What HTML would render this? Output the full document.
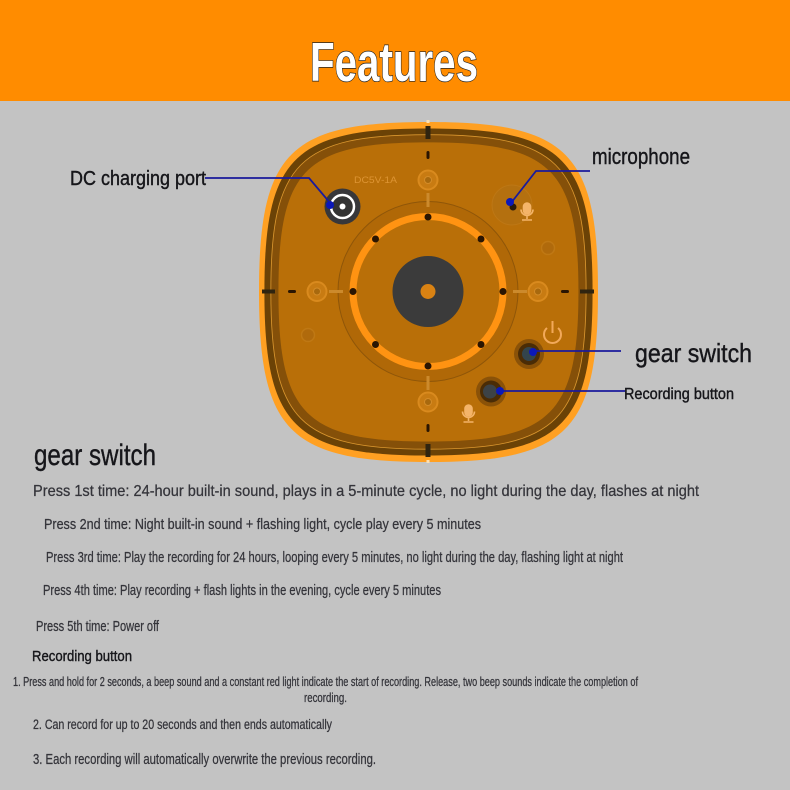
<!DOCTYPE html>
<html>
<head>
<meta charset="utf-8">
<style>
html,body{margin:0;padding:0;background:#c3c3c3;width:790px;height:790px;overflow:hidden}
svg{display:block}
text{font-family:"Liberation Sans",sans-serif}
</style>
</head>
<body>
<svg width="790" height="790" viewBox="0 0 790 790" xmlns="http://www.w3.org/2000/svg">
<defs>
<path id="sq" d="M428,122 C567,122 598,152.500 598,291.500 C598,430.500 567,462 428,462 C289,462 259,430.500 259,291.500 C259,152.500 289,122 428,122 Z"/>
</defs>
<rect width="790" height="790" fill="#c3c3c3"/>
<rect width="790" height="101" fill="#ff8c00"/>
<text x="310" y="81" font-size="55" font-weight="bold" fill="#fff" stroke="#222" stroke-width="1.400" paint-order="stroke" textLength="168" lengthAdjust="spacingAndGlyphs">Features</text>

<!-- device -->
<use href="#sq" fill="#ffa022"/>
<g transform="translate(428 291.500) scale(.968 .962) translate(-428 -291.500)"><use href="#sq" fill="#6b4206"/></g>
<g transform="translate(428 291.500) scale(.93 .925) translate(-428 -291.500)"><use href="#sq" fill="#855009" stroke="#d9962f" stroke-width=".9"/></g>
<g transform="translate(428 291.500) scale(.885 .88) translate(-428 -291.500)"><use href="#sq" fill="#b96f08"/></g>
<circle cx="428" cy="291.500" r="90" fill="#b06807" stroke="#8f5609" stroke-width="1"/>
<circle cx="428" cy="291.500" r="75" fill="#b96f08" stroke="#ff9312" stroke-width="7"/>
<circle cx="428" cy="291.500" r="35.500" fill="#3b3b3b"/>
<circle cx="428" cy="291.500" r="7.500" fill="#d98213"/>

<!-- ring screws -->
<g fill="#2a1502">
<circle cx="428" cy="217" r="3.500"/><circle cx="428" cy="366" r="3.500"/><circle cx="353" cy="291.500" r="3.500"/><circle cx="503" cy="291.500" r="3.500"/>
<circle cx="375.500" cy="239" r="3.500"/><circle cx="481" cy="239" r="3.500"/><circle cx="375.500" cy="344.500" r="3.500"/><circle cx="481" cy="344.500" r="3.500"/>
<rect x="425.500" y="126" width="5" height="13" fill="#2f2410"/><rect x="425.500" y="444" width="5" height="13" fill="#2f2410"/>
<rect x="262" y="289.500" width="13" height="4" fill="#2f2410"/><rect x="580" y="289.500" width="14" height="4" fill="#2f2410"/>
<rect x="426.500" y="151" width="3" height="8" rx="1.500"/><rect x="426.500" y="424" width="3" height="8" rx="1.500"/>
<rect x="288" y="290" width="8" height="3" rx="1.500"/><rect x="561" y="290" width="8" height="3" rx="1.500"/>
</g>
<rect x="426.500" y="120" width="3" height="3" fill="#fbe0b5"/><rect x="426.500" y="460" width="3" height="3" fill="#fbe0b5"/>

<!-- mounting posts -->
<path d="M428,193 V207 M428,376 V390 M329,291.500 H343 M513,291.500 H527" fill="none" stroke="#cc8a2c" stroke-width="3"/>
<g fill="#c87b12" stroke="#d98a1e" stroke-width="2">
<circle cx="428" cy="180" r="9.500"/><circle cx="428" cy="402" r="9.500"/><circle cx="317" cy="291.500" r="9.500"/><circle cx="538" cy="291.500" r="9.500"/>
</g>
<g fill="#a8690e" stroke="#d48c28" stroke-width="1">
<circle cx="428" cy="180" r="3.500"/><circle cx="428" cy="402" r="3.500"/><circle cx="317" cy="291.500" r="3.500"/><circle cx="538" cy="291.500" r="3.500"/>
</g>
<circle cx="548" cy="248" r="6.500" fill="#b06a0c" stroke="#bf7814" stroke-width="1.500"/>
<circle cx="308" cy="335" r="6.500" fill="#b06a0c" stroke="#bf7814" stroke-width="1.500"/>

<text x="354" y="183" font-size="9.500" fill="#dd9433" textLength="43" lengthAdjust="spacingAndGlyphs">DC5V-1A</text>

<!-- DC port -->
<circle cx="342.500" cy="206.500" r="18" fill="#37373a"/>
<circle cx="342.500" cy="206.500" r="11.500" fill="#333" stroke="#fff" stroke-width="2.500"/>
<circle cx="342.500" cy="206.500" r="3" fill="#fff"/>

<!-- mic hole -->
<circle cx="512" cy="205" r="20" fill="#b4700f" stroke="#bd7715" stroke-width="1"/>
<circle cx="513" cy="207" r="3.500" fill="#2a1a08"/>
<g fill="none" stroke="#f4b469" stroke-width="1.600">
<rect x="523.500" y="203" width="7" height="11" rx="3.500" fill="#f4b469"/>
<path d="M521,209.500 a6,6 0 0 0 12,0 M527,216 V219 M522,220 H532"/>
</g>
<g fill="none" stroke="#f4b469" stroke-width="1.600">
<rect x="465" y="405" width="7" height="11" rx="3.500" fill="#f4b469"/>
<path d="M462.500,411.500 a6,6 0 0 0 12,0 M468.500,418 V421 M463.500,422 H473.500"/>
</g>

<!-- power icon -->
<path d="M558,328 a8.500,8.500 0 1 1 -11,0 M552.500,321 V333" fill="none" stroke="#f2a95a" stroke-width="2"/>

<!-- switch and button -->
<circle cx="529" cy="354" r="15" fill="#8a5208"/>
<circle cx="529" cy="354" r="11" fill="#4a2c06"/>
<circle cx="529" cy="354" r="7" fill="#33444c"/>
<circle cx="491" cy="391.500" r="15" fill="#8a5208"/>
<circle cx="491" cy="391.500" r="11" fill="#4a2c06"/>
<circle cx="490" cy="391.500" r="7" fill="#3c4246"/>

<!-- leader lines -->
<g fill="none" stroke="#1a1a9c" stroke-width="1.800">
<path d="M205,178 H309 L331,204"/>
<path d="M590,171 H536 L511,203"/>
<path d="M533,351 H621"/>
<path d="M500,391 H625"/>
</g>
<g fill="#0b18b8">
<circle cx="330" cy="205" r="4"/><circle cx="510" cy="202" r="4"/><circle cx="533" cy="352" r="4"/><circle cx="500" cy="391" r="4"/>
</g>

<!-- callouts -->
<g fill="#16161a" stroke="#16161a" stroke-width=".4">
<text x="70" y="185" font-size="20" textLength="136" lengthAdjust="spacingAndGlyphs">DC charging port</text>
<text x="592" y="164" font-size="22" textLength="98" lengthAdjust="spacingAndGlyphs">microphone</text>
<text x="635" y="362" font-size="26" textLength="117" lengthAdjust="spacingAndGlyphs">gear switch</text>
<text x="624" y="399" font-size="16" textLength="110" lengthAdjust="spacingAndGlyphs">Recording button</text>
<text x="34" y="465" font-size="30" textLength="122" lengthAdjust="spacingAndGlyphs">gear switch</text>
<text x="32" y="661" font-size="15" textLength="100" lengthAdjust="spacingAndGlyphs">Recording button</text>
</g>

<!-- body text -->
<g fill="#34343a" stroke="#34343a" stroke-width=".25">
<text x="33" y="496" font-size="16" textLength="666" lengthAdjust="spacingAndGlyphs">Press 1st time: 24-hour built-in sound, plays in a 5-minute cycle, no light during the day, flashes at night</text>
<text x="44" y="529" font-size="15" textLength="437" lengthAdjust="spacingAndGlyphs">Press 2nd time: Night built-in sound + flashing light, cycle play every 5 minutes</text>
<text x="46" y="562" font-size="15" textLength="577" lengthAdjust="spacingAndGlyphs">Press 3rd time: Play the recording for 24 hours, looping every 5 minutes, no light during the day, flashing light at night</text>
<text x="43" y="595" font-size="15" textLength="398" lengthAdjust="spacingAndGlyphs">Press 4th time: Play recording + flash lights in the evening, cycle every 5 minutes</text>
<text x="36" y="631" font-size="15" textLength="123" lengthAdjust="spacingAndGlyphs">Press 5th time: Power off</text>
<text x="13" y="686" font-size="12.500" textLength="625" lengthAdjust="spacingAndGlyphs">1. Press and hold for 2 seconds, a beep sound and a constant red light indicate the start of recording. Release, two beep sounds indicate the completion of</text>
<text x="304" y="702" font-size="12.500" textLength="43" lengthAdjust="spacingAndGlyphs">recording.</text>
<text x="33" y="729" font-size="13.500" textLength="299" lengthAdjust="spacingAndGlyphs">2. Can record for up to 20 seconds and then ends automatically</text>
<text x="33" y="764" font-size="15" textLength="343" lengthAdjust="spacingAndGlyphs">3. Each recording will automatically overwrite the previous recording.</text>
</g>
</svg>
</body>
</html>
